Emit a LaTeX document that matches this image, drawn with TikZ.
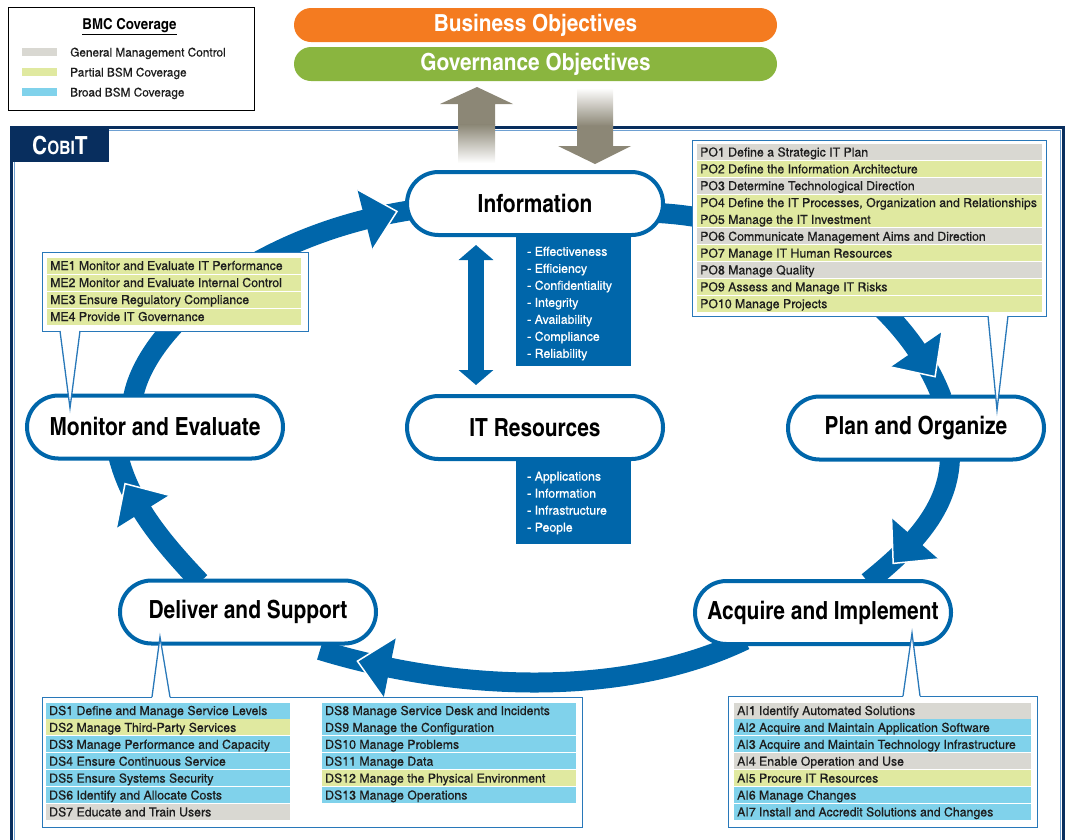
\documentclass[tikz,border=0pt]{standalone}
\usepackage{fontspec}
\setmainfont{texgyreheroscn}[Extension=.otf,UprightFont=*-regular,BoldFont=*-bold,ItalicFont=*-italic,BoldItalicFont=*-bolditalic]
\newfontfamily\cnL{texgyreheroscn}[Extension=.otf,UprightFont=*-regular,BoldFont=*-bold,FakeStretch=1.2,FakeBold=0.3]
\newfontfamily\cnB{texgyreheroscn}[Extension=.otf,UprightFont=*-bold,BoldFont=*-bold,FakeStretch=1.08]
\newfontfamily\cnS{texgyreheroscn}[Extension=.otf,UprightFont=*-bold,BoldFont=*-bold,FakeStretch=1.02]
\usetikzlibrary{calc,arrows.meta,decorations.markings}
\pgfdeclarelayer{bg}
\pgfsetlayers{bg,main}
\definecolor{cobblue}{RGB}{0,102,170}
\definecolor{navy}{RGB}{8,46,94}
\definecolor{lblue}{RGB}{110,160,210}
\definecolor{gm}{RGB}{217,216,210}
\definecolor{pb}{RGB}{224,233,160}
\definecolor{bb}{RGB}{128,210,235}
\definecolor{taupe}{RGB}{140,135,118}
\definecolor{orng}{RGB}{244,123,32}
\definecolor{grn}{RGB}{138,181,63}
\definecolor{ink}{RGB}{30,30,30}
\definecolor{cbord}{RGB}{40,120,185}
\newcommand\ahead{%
  \fill[cobblue] (0,-31) -- (33,0) -- (0,31) -- cycle;
  \draw[white, line width=1.5pt, line join=miter] (0,-31) -- (33,0) -- (0,31);}
\newcommand\rowitem[6]{%
  \fill[#5] (#2,#4-8) rectangle (#3,#4+8);
  \node[itemtxt] (#1) at (#2+3,#4+4.5) {#6};}
\begin{document}
\begin{tikzpicture}[x=1pt,y=-1pt,
  stage/.style={draw=cobblue, line width=4pt, fill=white, rounded corners=31.5pt,
    minimum width=256pt, minimum height=63pt, inner sep=0pt,
    font=\cnS\fontsize{25}{28}\selectfont, text=black},
  itemtxt/.style={anchor=base west, inner sep=0pt, text=ink, font=\cnL\fontsize{12.5}{14}\selectfont},
  callout/.style={draw=cbord, line width=1.3pt, fill=white, inner sep=0pt, anchor=north west},
  cyc/.style={cobblue, line width=20pt},
  banner/.style={rounded corners=17pt, minimum width=483pt, minimum height=34pt, inner sep=0pt,
    text=white, font=\cnB\fontsize{23.5}{26}\selectfont},
  wlist/.style={text=white, anchor=north west, inner sep=0pt, align=left,
    font=\cnL\fontsize{12.5}{17}\selectfont},
  legtxt/.style={anchor=base west, inner sep=0pt, text=ink, font=\cnL\fontsize{12}{14}\selectfont}
]
\useasboundingbox (0,0) rectangle (1070,839);

% ---------- legend ----------
\node[draw=black, line width=0.8pt, minimum width=246pt, minimum height=103pt, inner sep=0pt, anchor=north west] (legend) at (8,7) {};
\node[inner sep=0pt, font=\cnB\fontsize{15}{17}\selectfont] (legtitle) at (129.5,27) {\underline{BMC Coverage}};
\node[fill=gm, minimum width=35pt, minimum height=8pt, inner sep=0pt] (sw1) at (39.5,52) {};
\node[fill=pb, minimum width=35pt, minimum height=8pt, inner sep=0pt] (sw2) at (39.5,72) {};
\node[fill=bb, minimum width=35pt, minimum height=8pt, inner sep=0pt] (sw3) at (39.5,92) {};
\node[legtxt] (lg1) at (70,56.5) {General Management Control};
\node[legtxt] (lg2) at (70,76.5) {Partial BSM Coverage};
\node[legtxt] (lg3) at (70,96.5) {Broad BSM Coverage};

% ---------- banners ----------
\node[banner, fill=orng] (bus) at (535.5,25) {Business Objectives};
\node[banner, fill=grn] (gov) at (535.5,64) {Governance Objectives};

% ---------- frame ----------
\draw[navy, line width=3pt] (11.5,845) -- (11.5,127.5) -- (1063.5,127.5) -- (1063.5,845);
\draw[lblue, line width=0.8pt] (14.5,845) -- (14.5,130.5) -- (1060.5,130.5) -- (1060.5,845);
\node[fill=navy, minimum width=99pt, minimum height=36pt, inner sep=0pt, anchor=north west] (tab) at (10,126) {};
\node[text=white, anchor=base west, inner sep=0pt] (cobit) at (32,154)
  {\cnS\fontsize{25}{25}\selectfont C\fontsize{18.5}{18.5}\selectfont OBI\fontsize{25}{25}\selectfont T};

% ---------- grey arrows ----------
\fill[taupe] (477,87) -- (513,104) -- (495,104) -- (495,125) -- (458,125) -- (458,104) -- (440,104) -- cycle;
\shade[top color=taupe, bottom color=white] (458,124.5) rectangle (495,163);
\shade[top color=white, bottom color=taupe] (577,88) rectangle (613,126);
\fill[taupe] (577,125.5) -- (613,125.5) -- (613,146) -- (631,146) -- (595,164) -- (558,146) -- (577,146) -- cycle;

% ---------- lists under Information / IT Resources ----------
\node[fill=cobblue, minimum width=115pt, minimum height=132pt, inner sep=0pt, anchor=north west] (infolist) at (516,234) {};
\node[wlist] (infotxt) at (527,246.5) {- Effectiveness\\- Efficiency\\- Confidentiality\\- Integrity\\- Availability\\- Compliance\\- Reliability};
\node[fill=cobblue, minimum width=115pt, minimum height=84pt, inner sep=0pt, anchor=north west] (reslist) at (516,460) {};
\node[wlist] (restxt) at (527,471.5) {- Applications\\- Information\\- Infrastructure\\- People};

% ---------- stage boxes ----------
\node[stage] (info) at (535,203.5) {Information};
\node[stage] (itres) at (535,427.5) {IT Resources};
\node[stage] (me) at (155,427) {Monitor and Evaluate};
\node[stage] (po) at (916,428) {Plan and Organize};
\node[stage] (ds) at (248,612) {Deliver and Support};
\node[stage] (ai) at (823,612.5) {Acquire and Implement};

% ---------- double arrow ----------
\coordinate (da1) at (476,245);
\coordinate (da2) at (476,385);
\draw[cobblue, line width=16pt, {Triangle[width=34pt,length=15pt]}-{Triangle[width=34pt,length=15pt]}] (da1) -- (da2);

% ---------- cycle arrows ----------
\begin{pgfonlayer}{bg}
\coordinate (c1s) at (133,398); \coordinate (c1e) at (412,210);
\coordinate (c2s) at (658,213); \coordinate (c2e) at (942,398);
\coordinate (c3s) at (950,455); \coordinate (c3e) at (868,582);
\coordinate (c4s) at (745,640); \coordinate (c4e) at (320,650);
\coordinate (c5s) at (200,582); \coordinate (c5e) at (118,455);
\draw[cyc, postaction={decorate, decoration={markings, mark=at position -48pt with {\ahead}}}]
  (c1s) .. controls (145,330) and (250,235) .. (c1e);
\draw[cyc, postaction={decorate, decoration={markings, mark=at position -55pt with {\ahead}}}]
  (c2s) .. controls (790,220) and (905,300) .. (c2e);
\draw[cyc, postaction={decorate, decoration={markings, mark=at position -64pt with {\ahead}}}]
  (c3s) .. controls (950,510) and (910,548) .. (c3e);
\draw[cyc, postaction={decorate, decoration={markings, mark=at position -72pt with {\ahead}}}]
  (c4s) .. controls (620,700) and (450,690) .. (c4e);
\draw[cyc, postaction={decorate, decoration={markings, mark=at position -62pt with {\ahead}}}]
  (c5s) .. controls (165,545) and (130,505) .. (c5e);
\end{pgfonlayer}

% ---------- PO callout ----------
\node[callout, minimum width=354pt, minimum height=176pt] (pobox) at (692,140) {};
\foreach \c/\t [count=\i] in {gm/PO1 Define a Strategic IT Plan,
  pb/PO2 Define the Information Architecture,
  gm/PO3 Determine Technological Direction,
  {pb/PO4 Define the IT Processes, Organization and Relationships},
  pb/PO5 Manage the IT Investment,
  gm/PO6 Communicate Management Aims and Direction,
  pb/PO7 Manage IT Human Resources,
  gm/PO8 Manage Quality,
  pb/PO9 Assess and Manage IT Risks,
  pb/PO10 Manage Projects}{
  \pgfmathsetmacro\yy{152+16.85*(\i-1)}
  \rowitem{po\i}{697}{1042}{\yy}{\c}{\t}
}
\fill[white] (988,314) -- (997,410) -- (1008,314) -- cycle;
\draw[cbord, line width=1.3pt] (988,316) -- (997,410) -- (1008,316);

% ---------- ME callout ----------
\node[callout, minimum width=266pt, minimum height=79pt] (mebox) at (42,252) {};
\foreach \c/\t [count=\i] in {pb/ME1 Monitor and Evaluate IT Performance,
  pb/ME2 Monitor and Evaluate Internal Control,
  pb/ME3 Ensure Regulatory Compliance,
  pb/ME4 Provide IT Governance}{
  \pgfmathsetmacro\yy{265.5+17*(\i-1)}
  \rowitem{me\i}{47}{301}{\yy}{\c}{\t}
}
\fill[white] (60,329) -- (70,408) -- (80,329) -- cycle;
\draw[cbord, line width=1.3pt] (60,331) -- (70,408) -- (80,331);

% ---------- DS callout ----------
\node[callout, minimum width=540pt, minimum height=130pt] (dsbox) at (42,697) {};
\foreach \c/\t [count=\i] in {bb/DS1 Define and Manage Service Levels,
  pb/DS2 Manage Third-Party Services,
  bb/DS3 Manage Performance and Capacity,
  bb/DS4 Ensure Continuous Service,
  bb/DS5 Ensure Systems Security,
  bb/DS6 Identify and Allocate Costs,
  gm/DS7 Educate and Train Users}{
  \pgfmathsetmacro\yy{710.5+16.9*(\i-1)}
  \rowitem{dsl\i}{46}{290}{\yy}{\c}{\t}
}
\foreach \c/\t [count=\i] in {bb/DS8 Manage Service Desk and Incidents,
  bb/DS9 Manage the Configuration,
  bb/DS10 Manage Problems,
  bb/DS11 Manage Data,
  pb/DS12 Manage the Physical Environment,
  bb/DS13 Manage Operations}{
  \pgfmathsetmacro\yy{710.5+16.9*(\i-1)}
  \rowitem{dsr\i}{322}{576}{\yy}{\c}{\t}
}
\fill[white] (152,699) -- (160,637) -- (170,699) -- cycle;
\draw[cbord, line width=1.3pt] (152,697) -- (160,637) -- (170,697);

% ---------- AI callout ----------
\node[callout, minimum width=309pt, minimum height=131pt] (aibox) at (728,696) {};
\foreach \c/\t [count=\i] in {gm/AI1 Identify Automated Solutions,
  bb/AI2 Acquire and Maintain Application Software,
  bb/AI3 Acquire and Maintain Technology Infrastructure,
  gm/AI4 Enable Operation and Use,
  pb/AI5 Procure IT Resources,
  bb/AI6 Manage Changes,
  bb/AI7 Install and Accredit Solutions and Changes}{
  \pgfmathsetmacro\yy{710.5+16.9*(\i-1)}
  \rowitem{ai\i}{734}{1031}{\yy}{\c}{\t}
}
\fill[white] (903,698) -- (912,633) -- (920,698) -- cycle;
\draw[cbord, line width=1.3pt] (903,696) -- (912,633) -- (920,696);
\end{tikzpicture}
\end{document}
